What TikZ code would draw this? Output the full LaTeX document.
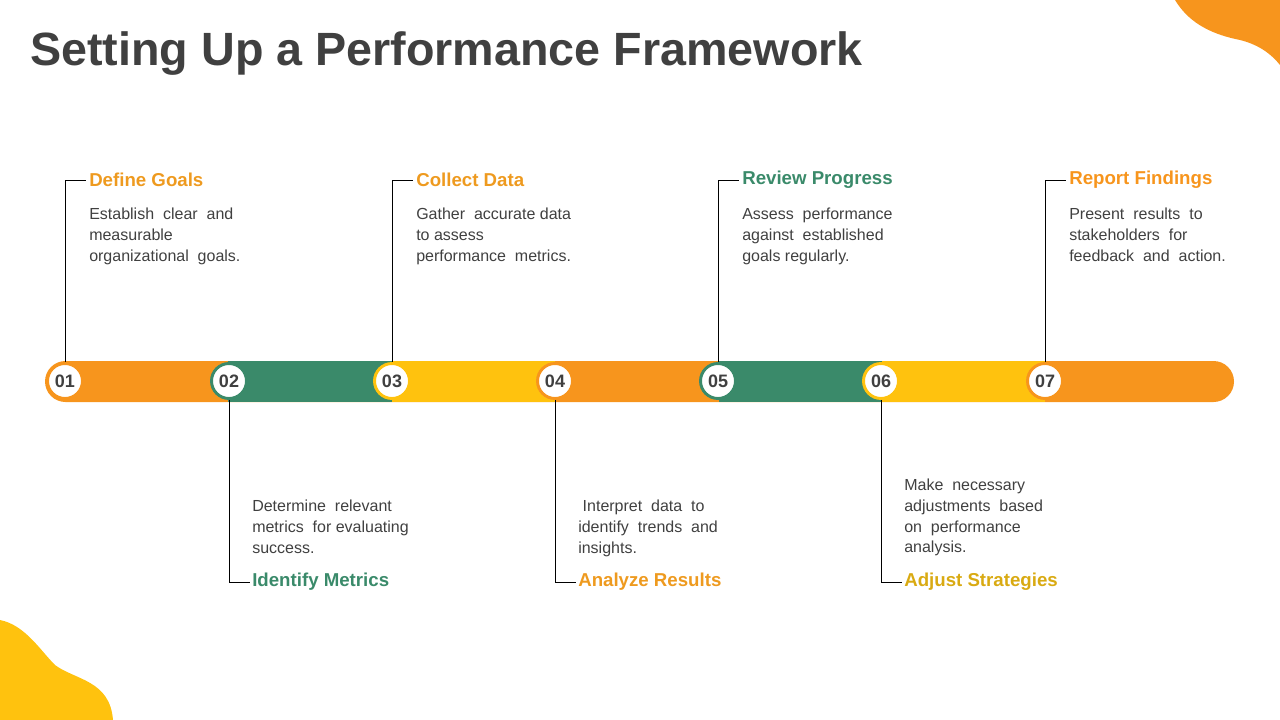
\documentclass[tikz,border=0pt]{standalone}
\usepackage{fontspec}
\setmainfont{Liberation Sans}
\begin{document}
\begin{tikzpicture}[x=0.75pt,y=-0.75pt,
  txt/.style={anchor=north west,align=left,font=\fontsize{12}{15.5}\selectfont,text=black!75,inner sep=0pt},
  head/.style={anchor=west,font=\fontsize{14}{16}\selectfont\bfseries,inner sep=0pt},
  num/.style={circle,fill=white,draw=#1,line width=2.2pt,minimum size=35pt*0.75,inner sep=0pt,font=\fontsize{13.5}{14}\selectfont\bfseries,text=black!75},
  conn/.style={draw=black,line width=0.6pt}]
\definecolor{cor}{HTML}{F7951D}
\definecolor{cgr}{HTML}{3A8A6A}
\definecolor{cye}{HTML}{FFC20E}
\definecolor{hor}{HTML}{EE9A1F}
\definecolor{hye}{HTML}{D9AA12}
\useasboundingbox (0,0) rectangle (1280,720);
% blobs
\fill[cor] (1175,0) .. controls (1190,25) and (1215,35) .. (1240,40) .. controls (1260,45) and (1272,55) .. (1280,65) -- (1280,0) -- cycle;
\fill[cye] (0,620) .. controls (25,625) and (40,650) .. (55,665) .. controls (75,680) and (110,680) .. (113,720) -- (0,720) -- cycle;
\node[anchor=west,inner sep=0pt,font=\fontsize{35}{40}\selectfont\bfseries,text=black!75] (title) at (30,54) {Setting Up a Performance Framework};
% bar
\fill[cor,rounded corners=20.5*0.75pt] (45,361) rectangle (1234,402);
\fill[cor] (45,361) [rounded corners=0pt] ++(0,0);
\fill[cgr] (228,361) rectangle (392,402);
\fill[cye] (392,361) rectangle (555,402);
\fill[cor] (555,361) rectangle (719,402);
\fill[cgr] (719,361) rectangle (882,402);
\fill[cye] (882,361) rectangle (1045,402);
\foreach \i/\x/\c in {1/65/cor,2/229/cgr,3/392/cye,4/555/cor,5/718/cgr,6/881/cye,7/1045/cor}
  \node[num=\c] (n\i) at (\x,381) {0\i};
% top items
\foreach \i/\x/\c/\h/\t in {
 1/65/hor/Define Goals/{Establish\ \ clear\ \ and\\measurable\\organizational\ \ goals.},
 3/392/hor/Collect Data/{Gather\ \ accurate data\\to assess\\performance\ \ metrics.},
 5/718/cgr/Review Progress/{Assess\ \ performance\\against\ \ established\\goals regularly.},
 7/1045/cor/Report Findings/{Present\ \ results\ \ to\\stakeholders\ \ for\\feedback\ \ and\ \ action.}}{
  \coordinate (c\i) at (\x,180);
  \coordinate (e\i) at (\x+21,180);
  \draw[conn] (n\i.north) -- (c\i) -- (e\i);
  \node[head,text=\c] (h\i) at (\x+24,180) {\h};
  \node[txt] (t\i) at (\x+24,208) {\t};
}
% bottom items
\foreach \i/\x/\c/\h/\t/\ty in {
 2/229/cgr/Identify Metrics/{Determine\ \ relevant\\metrics\ \ for evaluating\\success.}/500,
 4/555/hor/Analyze Results/{\ Interpret\ \ data\ \ to\\identify\ \ trends\ \ and\\insights.}/500,
 6/881/hye/Adjust Strategies/{Make\ \ necessary\\adjustments\ \ based\\on\ \ performance\\analysis.}/479}{
  \coordinate (c\i) at (\x,582);
  \coordinate (e\i) at (\x+21,582);
  \draw[conn] (n\i.south) -- (c\i) -- (e\i);
  \node[head,text=\c] (h\i) at (\x+23,582) {\h};
  \node[txt] (t\i) at (\x+23,\ty) {\t};
}
\end{tikzpicture}
\end{document}
